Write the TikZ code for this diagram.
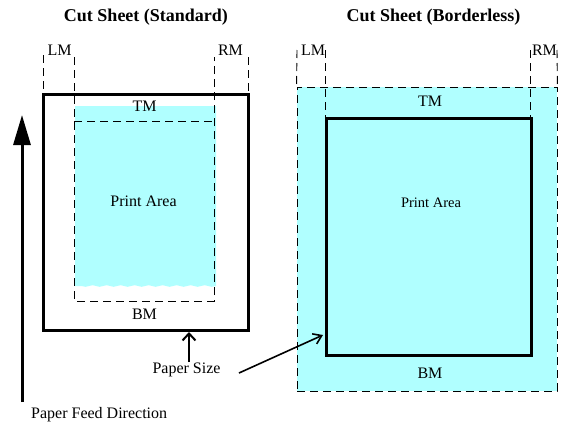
\documentclass[tikz,border=0pt]{standalone}
\usepackage{fontspec}
\setmainfont{Liberation Serif}
\usetikzlibrary{arrows.meta,decorations.pathmorphing}
\definecolor{printcyan}{RGB}{176,255,255}
\tikzset{
  dsh/.style={line width=0.9pt, dash pattern=on 8pt off 5pt},
  paperbox/.style={draw, line width=3pt, inner sep=0pt, fill=none},
  lbl/.style={inner sep=0pt, anchor=base, font=\fontsize{16}{18}\selectfont},
  ttl/.style={inner sep=0pt, anchor=base, font=\fontsize{18}{20}\selectfont\bfseries},
  smlbl/.style={inner sep=0pt, anchor=base, font=\fontsize{14.5}{16}\selectfont}
}
\begin{document}
\begin{tikzpicture}[x=1pt,y=-1pt]
\useasboundingbox (0,0) rectangle (563,426);
% ---------------- Left: Cut Sheet (Standard)
\node[ttl] (tL) at (146,21) {Cut Sheet (Standard)};
\fill[printcyan] (75,106) -- (216,106) -- (216,286)
  decorate[decoration={snake,amplitude=0.8pt,segment length=14pt}] {-- (75,286)} -- cycle;
\coordinate (lmA) at (43,55);
\coordinate (lmB) at (74,57);
\coordinate (rmA) at (214,57);
\coordinate (rmB) at (248,57);
\coordinate (paL) at (74,301);
\coordinate (paR) at (214,301);
\coordinate (tmL) at (74,121);
\coordinate (tmR) at (214,121);
\coordinate (pbA) at (43,93);
\coordinate (pbB) at (248,93);
\draw[dsh] (lmA) -- (pbA);
\draw[dsh] (rmB) -- (pbB);
\draw[dsh] (lmB) -- (paL) -- (paR) -- (rmA);
\draw[dsh] (tmL) -- (tmR);
\node[paperbox, minimum width=205pt, minimum height=236pt] (paperL) at (145.5,212) {};
\node[lbl] (lmL) at (59.5,55) {LM};
\node[lbl] (rmLbl) at (230.5,55) {RM};
\node[lbl] (tmLbl) at (144.5,111) {TM};
\node[lbl] (paLbl) at (143.5,206) {Print Area};
\node[lbl] (bmLbl) at (144.5,319) {BM};
% ---------------- Right: Cut Sheet (Borderless)
\node[ttl] (tR) at (433.5,21) {Cut Sheet (Borderless)};
\node[draw, dsh, fill=printcyan, inner sep=0pt, minimum width=260pt, minimum height=304pt] (areaR) at (427,239) {};
\coordinate (rlmA) at (297,50);
\coordinate (rlmB) at (325,50);
\coordinate (rrmA) at (530,50);
\coordinate (rrmB) at (557,50);
\draw[dsh] (rlmA) -- (areaR.north west);
\draw[dsh] (rrmB) -- (areaR.north east);
\draw[dsh] (rlmB) -- (325,118);
\draw[dsh] (rrmA) -- (530,118);
\node[paperbox, minimum width=205pt, minimum height=237pt] (paperR) at (428.5,236.5) {};
\node[lbl] (rlmL) at (313,55) {LM};
\node[lbl] (rrmL) at (544.5,55) {RM};
\node[lbl] (rtm) at (430,106) {TM};
\node[smlbl] (rpa) at (431,207) {Print Area};
\node[lbl] (rbm) at (430,378) {BM};
% ---------------- Paper size arrows
\node[lbl] (ps) at (186.5,373) {Paper Size};
\coordinate (psUp) at (189,362);
\coordinate (psTip) at (189,332);
\draw[line width=2.6pt, -{Straight Barb[length=7pt,width=13pt,line width=2pt]}] (psUp) -- (psTip);
\coordinate (psR) at (239,373);
\coordinate (diagTip) at (323,335);
\draw[line width=1.6pt, -{Straight Barb[length=8pt,width=11pt,line width=1.6pt]}] (psR) -- (diagTip);
% ---------------- Feed direction
\node[inner sep=0pt, anchor=base west, font=\fontsize{16}{18}\selectfont] (pfd) at (31,418) {Paper Feed Direction};
\coordinate (fdB) at (22,402);
\coordinate (fdT) at (22,115);
\draw[line width=3pt, -{Triangle[length=30pt,width=17pt]}] (fdB) -- (fdT);
\end{tikzpicture}
\end{document}
